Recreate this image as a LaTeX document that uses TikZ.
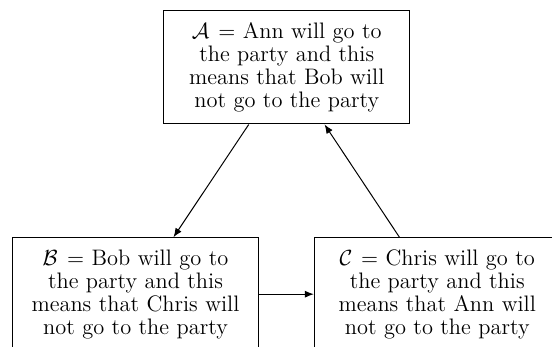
\documentclass[tikz,border=0pt]{standalone}
\usetikzlibrary{arrows.meta}
\begin{document}
\begin{tikzpicture}[x=0.5pt,y=-0.5pt,
  box/.style={draw, line width=0.5pt, text width=117pt, align=center,
    inner xsep=3pt, inner ysep=0pt, minimum height=56.5pt,
    font=\fontsize{11.2}{11.5}\selectfont},
  arr/.style={-{Latex[length=4.5pt,width=3.6pt]}, line width=0.5pt}]
\useasboundingbox (0,0) rectangle (552,347);
\node[box] (A) at (286.75,67.5) {$\mathcal{A}=$ Ann will go to\\ the party and this\\ means that Bob will\\ not go to the party};
\node[box] (B) at (135.5,294.2) {$\mathcal{B}=$ Bob will go to\\ the party and this\\ means that Chris will\\ not go to the party};
\node[box] (C) at (437.25,294.2) {$\mathcal{C}=$ Chris will go to\\ the party and this\\ means that Ann will\\ not go to the party};
\draw[arr] (A) -- (B);
\draw[arr] (B) -- (C);
\draw[arr] (C) -- (A);
\end{tikzpicture}
\end{document}
